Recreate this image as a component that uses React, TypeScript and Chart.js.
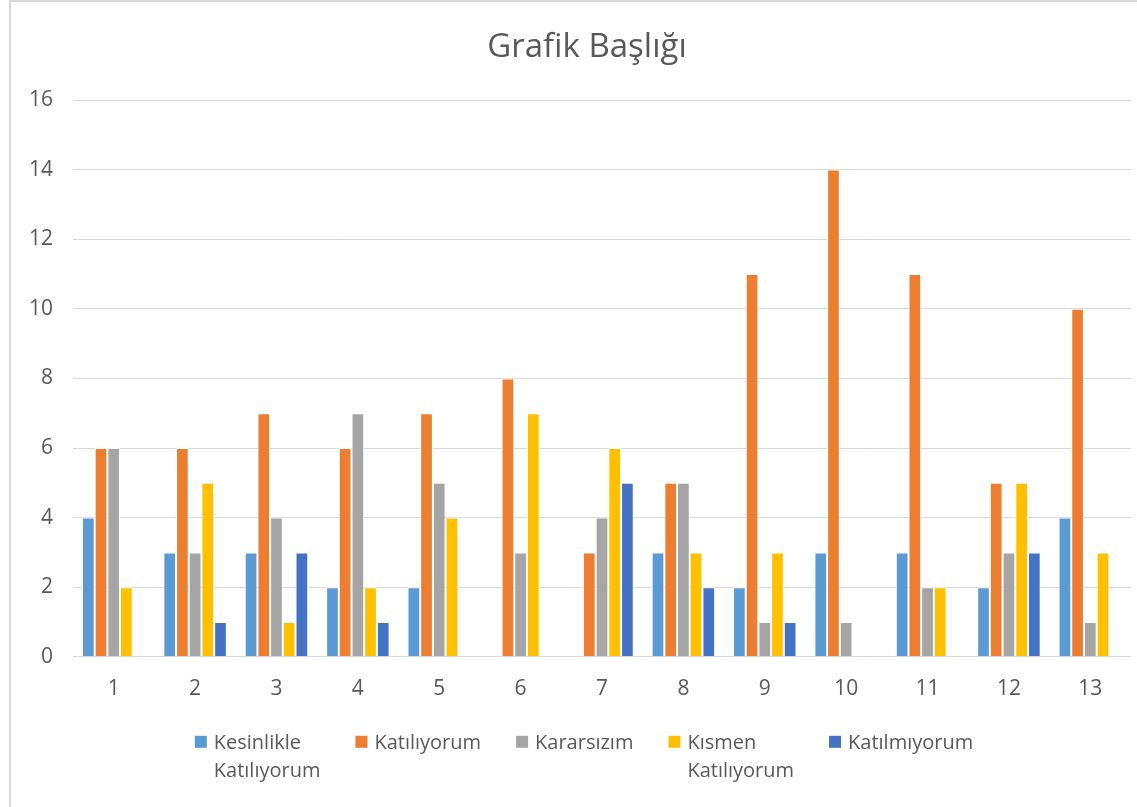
import React, { useEffect, useRef } from "react";
import { Chart, registerables } from "chart.js";

Chart.register(...registerables);

const categories = ["1", "2", "3", "4", "5", "6", "7", "8", "9", "10", "11", "12", "13"];
const kesinlikleKatiliyorum = [4, 3, 3, 2, 2, 0, 0, 3, 2, 3, 3, 2, 4];
const katiliyorum = [6, 6, 7, 6, 7, 8, 3, 5, 11, 14, 11, 5, 10];
const kararsizim = [6, 3, 4, 7, 5, 3, 4, 5, 1, 1, 2, 3, 1];
const kismenKatiliyorum = [2, 5, 1, 2, 4, 7, 6, 3, 3, 0, 2, 5, 3];
const katilmiyorum = [0, 1, 3, 1, 0, 0, 5, 2, 1, 0, 0, 3, 0];
const seriesNames: string[][] = [
  ["Kesinlikle", "Katılıyorum"],
  ["Katılıyorum"],
  ["Kararsızım"],
  ["Kısmen", "Katılıyorum"],
  ["Katılmıyorum"],
];
const seriesColors = ["#5B9BD5", "#ED7D31", "#A5A5A5", "#FFC000", "#4472C4"];
const titleText = "Grafik Başlığı";

const FONT = "'Open Sans', 'Noto Sans', sans-serif";
const TEXT = "#595959";

const framePlugin = {
  id: "frame",
  beforeDraw(chart: any) {
    const ctx = chart.ctx;
    ctx.save();
    ctx.fillStyle = "#ffffff";
    ctx.fillRect(0, 0, chart.width, chart.height);
    ctx.strokeStyle = "#d9d9d9";
    ctx.lineWidth = 2;
    ctx.beginPath();
    ctx.moveTo(10, chart.height);
    ctx.lineTo(10, 1);
    ctx.lineTo(chart.width, 1);
    ctx.stroke();
    ctx.restore();
  },
};

const titlePlugin = {
  id: "customTitle",
  afterDraw(chart: any) {
    const ctx = chart.ctx;
    const area = chart.chartArea;
    ctx.save();
    ctx.font = `33px ${FONT}`;
    ctx.fillStyle = TEXT;
    ctx.textAlign = "center";
    ctx.textBaseline = "middle";
    ctx.fillText(titleText, (area.left + area.right) / 2 - 15, area.top - 52);
    ctx.restore();
  },
};

const legendPlugin = {
  id: "customLegend",
  afterDraw(chart: any) {
    const ctx = chart.ctx;
    const area = chart.chartArea;
    ctx.save();
    ctx.font = `20px ${FONT}`;
    ctx.textBaseline = "middle";
    ctx.textAlign = "left";
    const box = 12;
    const gap = 7;
    const spacing = 35;
    const lineH = 28;
    const widths = chart.data.datasets.map((ds: any) => {
      const lines: string[] = ds.legendLines;
      const w = Math.max(...lines.map((l) => ctx.measureText(l).width));
      return box + gap + w;
    });
    const total = widths.reduce((a: number, b: number) => a + b, 0) + spacing * (widths.length - 1);
    let x = 584 - total / 2;
    const y0 = area.bottom + 86;
    chart.data.datasets.forEach((ds: any, i: number) => {
      ctx.fillStyle = ds.backgroundColor;
      ctx.fillRect(x, y0 - box / 2 - 1, box, box);
      ctx.fillStyle = TEXT;
      ds.legendLines.forEach((l: string, j: number) => {
        ctx.fillText(l, x + box + gap, y0 + j * lineH);
      });
      x += widths[i] + spacing;
    });
    ctx.restore();
  },
};

export default function App() {
  const ref = useRef<HTMLCanvasElement>(null);
  useEffect(() => {
    if (!ref.current) return;
    const values = [kesinlikleKatiliyorum, katiliyorum, kararsizim, kismenKatiliyorum, katilmiyorum];
    const chart = new Chart(ref.current, {
      type: "bar",
      data: {
        labels: categories,
        datasets: values.map((v, i) => ({
          label: seriesNames[i].join(" "),
          legendLines: seriesNames[i],
          data: v,
          backgroundColor: seriesColors[i],
          borderColor: "#ffffff",
          borderWidth: 1,
          borderSkipped: "bottom",
          barPercentage: 1,
          categoryPercentage: 0.78,
        })) as any,
      },
      options: {
        animation: false,
        responsive: true,
        maintainAspectRatio: false,
        layout: { padding: { left: 9, right: 6, top: 100, bottom: 85 } },
        plugins: {
          legend: { display: false },
          tooltip: { enabled: false },
          title: { display: false },
        },
        scales: {
          x: {
            grid: { display: false, drawTicks: false },
            border: { display: false },
            ticks: { color: TEXT, font: { family: FONT, size: 21 }, padding: 20 },
          },
          y: {
            min: 0,
            max: 16,
            grid: { color: "#d9d9d9", lineWidth: 1, drawTicks: false },
            border: { display: false },
            ticks: { stepSize: 2, color: TEXT, font: { family: FONT, size: 21 }, padding: 20 },
          },
        },
      },
      plugins: [framePlugin, titlePlugin, legendPlugin],
    });
    return () => chart.destroy();
  }, []);
  return (
    <div style={{ position: "fixed", left: 0, top: 0, width: 1137, height: 807, background: "#fff" }}>
      <canvas ref={ref} />
    </div>
  );
}
